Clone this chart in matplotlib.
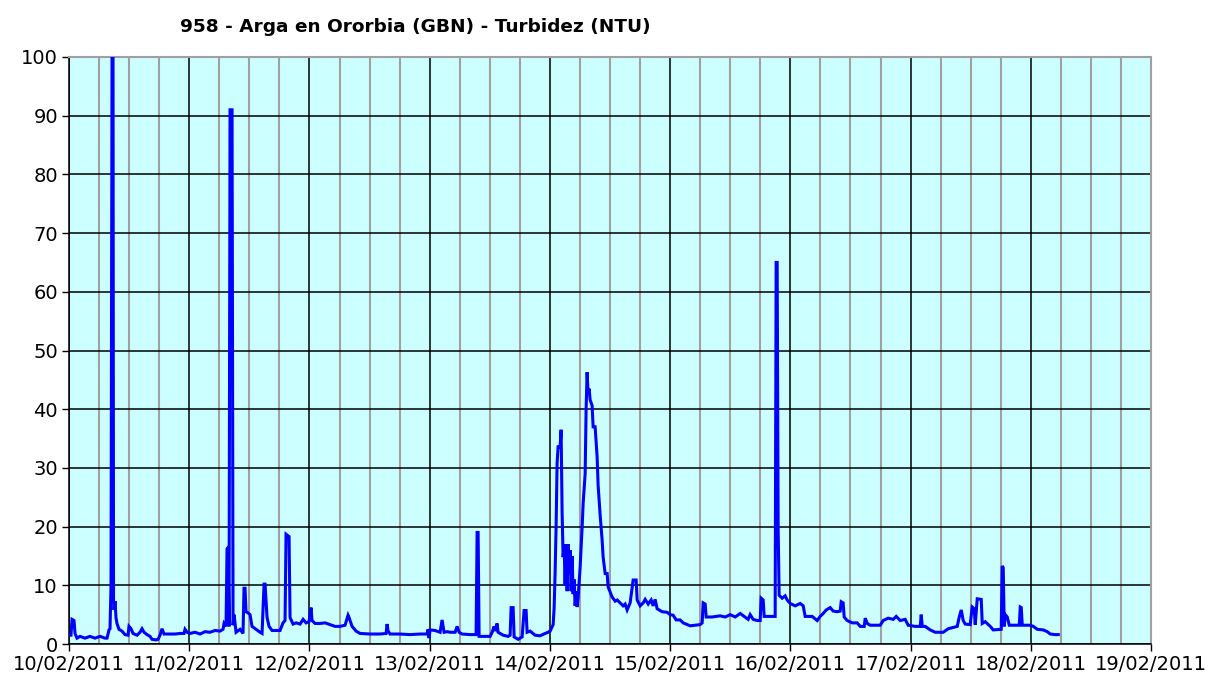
import datetime as dt

import matplotlib
matplotlib.use("Agg")
import matplotlib.pyplot as plt
import matplotlib.dates as mdates
import numpy as np

# hours since 10/02/2011 00:00, turbidity (NTU)
horas = [
    0, 0.40, 0.60, 1.00, 1.20, 1.60, 2.20, 3.19, 4.19, 5.19, 6.19, 7.19, 7.59, 7.99,
    8.19, 8.39, 8.59, 8.79, 8.89, 8.99, 9.19, 9.38, 9.58, 9.98, 10.58, 11.18, 11.78,
    11.98, 12.38, 12.78, 13.58, 14.18, 14.58, 14.98, 15.58, 16.17, 16.57, 17.37, 17.77,
    18.17, 18.57, 18.97, 20.17, 21.17, 22.16, 22.96, 23.16, 23.56, 24.16, 25.16, 26.16,
    27.16, 28.15, 29.15, 30.15, 30.75, 30.95, 31.35, 31.55, 31.75, 31.95, 32.15, 32.55,
    32.75, 32.95, 33.35, 34.15, 34.74, 34.94, 35.14, 35.34, 35.74, 36.14, 36.54, 37.34,
    38.14, 38.54, 38.94, 39.14, 39.54, 39.94, 40.54, 42.13, 42.73, 43.13, 43.33, 43.93,
    44.13, 44.73, 45.33, 46.13, 46.73, 47.32, 47.92, 48.32, 48.52, 49.12, 50.12, 51.12,
    52.12, 53.11, 54.11, 55.11, 55.71, 55.91, 56.51, 57.31, 58.11, 60.10, 62.10, 63.30,
    63.50, 63.70, 64.10, 66.09, 68.09, 70.09, 71.49, 71.69, 71.88, 72.08, 73.08, 74.08,
    74.48, 74.88, 75.48, 76.08, 77.08, 77.48, 77.88, 78.47, 80.07, 81.27, 81.47, 81.67,
    81.87, 83.07, 84.07, 84.47, 84.86, 85.06, 85.46, 85.66, 86.06, 86.66, 87.66, 88.06,
    88.26, 88.66, 88.86, 89.66, 90.46, 90.85, 91.25, 91.45, 92.05, 93.05, 94.05, 95.05,
    95.65, 96.05, 96.65, 96.84, 97.04, 97.24, 97.44, 97.64, 98.04, 98.24, 98.44, 98.64,
    98.84, 99.04, 99.24, 99.44, 99.64, 99.84, 100.04, 100.24, 100.44, 100.64, 100.84,
    101.04, 101.24, 101.44, 101.64, 102.04, 102.44, 102.64, 103.04, 103.23, 103.43,
    103.63, 103.83, 104.03, 104.43, 104.63, 105.03, 105.43, 105.63, 106.03, 106.43,
    106.63, 107.03, 107.43, 107.63, 108.43, 109.03, 109.43, 110.02, 110.62, 111.02,
    111.42, 112.02, 112.62, 113.22, 113.42, 114.02, 114.62, 115.02, 115.62, 116.21,
    116.61, 117.01, 117.41, 118.41, 119.41, 120.01, 120.61, 121.21, 122.00, 122.60,
    124.00, 125.00, 126.00, 126.40, 126.60, 127.00, 127.20, 128.39, 129.99, 130.99,
    131.99, 132.99, 133.99, 134.78, 135.58, 135.98, 136.58, 137.38, 137.98, 138.18,
    138.58, 138.78, 139.98, 140.97, 141.17, 141.37, 141.57, 141.77, 142.37, 142.97,
    143.37, 143.97, 144.97, 145.97, 146.57, 146.96, 148.36, 149.36, 149.96, 150.56,
    151.16, 151.96, 152.56, 153.35, 153.95, 154.15, 154.55, 154.75, 155.35, 156.35,
    157.35, 157.95, 158.75, 158.95, 159.35, 159.95, 161.94, 162.54, 163.54, 164.54,
    165.14, 165.94, 166.93, 167.53, 168.93, 169.93, 170.13, 170.33, 170.93, 171.92,
    172.92, 174.52, 175.52, 177.32, 177.72, 178.12, 178.51, 178.91, 179.91, 180.31,
    180.71, 180.91, 181.31, 182.11, 182.31, 182.91, 183.91, 184.50, 186.10, 186.30,
    186.50, 186.70, 186.90, 187.30, 187.70, 188.90, 189.70, 189.90, 190.10, 190.30,
    191.91, 192.51, 193.31, 194.49, 195.29, 195.89, 196.89, 197.49,
]
turbidez = [
    1.5, 1.5, 4.2, 4.0, 1.8, 1.0, 1.3, 1.0, 1.3, 1.0, 1.3, 1.0, 1.0, 2.4,
    2.6, 10, 100, 100, 7.5, 5.8, 7.3, 4.5, 3.5, 2.5, 2.2, 1.6, 1.5,
    3.0, 2.6, 1.8, 1.5, 2.0, 2.6, 2.0, 1.6, 1.3, 0.8, 0.7, 0.8,
    1.5, 2.6, 1.7, 1.7, 1.7, 1.8, 1.8, 2.5, 2.0, 1.8, 2.0, 1.7,
    2.1, 2.0, 2.3, 2.2, 2.5, 3.5, 3.0, 16.2, 16.4, 3.0, 91, 91,
    3.2, 5.0, 2.0, 2.5, 1.8, 9.5, 9.5, 5.5, 5.3, 5.0, 3.0, 2.5,
    2.0, 1.8, 10.2, 10.2, 4.5, 3.0, 2.3, 2.3, 3.6, 4.0, 18.7, 18.3,
    4.5, 3.4, 3.6, 3.4, 4.2, 3.6, 3.8, 6.2, 4.0, 3.5, 3.5, 3.6,
    3.3, 3.0, 3.0, 3.2, 4.9, 4.5, 3.0, 2.2, 1.8, 1.7, 1.7, 1.8,
    3.4, 2.2, 1.7, 1.7, 1.6, 1.7, 1.7, 2.5, 1.0, 2.4, 2.3, 2.0,
    4.1, 2.0, 2.1, 2.0, 2.0, 3.0, 2.0, 1.7, 1.6, 1.6, 19.0, 19.0,
    1.3, 1.3, 1.3, 2.0, 3.0, 2.2, 3.5, 2.0, 1.8, 1.5, 1.3, 1.5,
    6.2, 6.2, 1.2, 0.8, 1.2, 5.7, 5.7, 2.0, 2.2, 1.5, 1.4, 1.8,
    2.0, 2.2, 3.3, 6.0, 12, 20, 30.8, 33.6, 33.6, 36.5, 22.3, 14.8,
    16.8, 10, 17, 9, 17, 12, 16, 9, 15, 8.5, 11,
    6.5, 9, 6.3, 8.0, 13.1, 20, 24, 29, 40, 46.3,
    42.7, 43.5, 41.6, 40.6, 37.0, 37.0, 31.9, 27, 22, 17.7,
    14.8, 12, 12, 9.7, 8.0, 7.3, 7.5, 7.0, 6.5, 6.8,
    5.8, 7.0, 10.9, 10.9, 7.5, 6.5, 7.0, 7.6, 6.8, 7.5,
    6.5, 7.6, 6.0, 5.5, 5.4, 5.0, 4.9, 4.1, 4.1, 3.6,
    3.1, 3.2, 3.3, 3.6, 7.0, 6.8, 4.6, 4.6, 4.8, 4.6,
    5.0, 4.6, 5.2, 4.7, 4.2, 5.0, 4.2, 4.0, 4.0, 7.8,
    7.5, 4.7, 4.7, 4.7, 65, 65, 19.4, 8.3, 7.8, 8.2,
    7.5, 6.9, 6.5, 6.9, 6.5, 4.7, 4.7, 4.0, 4.7, 5.2,
    5.8, 6.2, 5.6, 5.5, 5.6, 7.2, 7.0, 4.6, 4.0, 3.6,
    3.6, 3.0, 3.0, 4.4, 3.5, 3.2, 3.2, 4.0, 4.4, 4.2,
    4.7, 4.0, 4.2, 3.2, 3.0, 3.0, 5.0, 3.0, 3.0, 2.4,
    2.0, 2.0, 2.6, 3.0, 4.6, 5.8, 4.0, 3.4, 3.3, 6.3,
    6.0, 3.3, 7.7, 7.6, 3.5, 3.8, 3.0, 2.4, 2.5, 13.3,
    13.0, 3.0, 5.0, 4.6, 3.2, 3.2, 3.2, 6.3, 6.2, 3.2,
    3.2, 3.0, 2.5, 2.4, 2.1, 1.7, 1.6, 1.6,
]

inicio = dt.datetime(2011, 2, 10)
fin = dt.datetime(2011, 2, 19)
fechas = [inicio + dt.timedelta(hours=h) for h in horas]

fig = plt.figure(figsize=(12.08, 6.79), dpi=100)
ax = fig.add_axes([69 / 1208, 35 / 679, (1151 - 69) / 1208, (644 - 57) / 679])
ax.set_facecolor("#CCFFFF")

ax.plot(fechas, turbidez, color="#0000FF", lw=2.2, zorder=3, solid_joinstyle="miter")

ax.set_xlim(inicio, fin)
ax.set_ylim(0, 100)
ax.set_yticks(np.arange(0, 101, 10))
ax.xaxis.set_major_locator(mdates.DayLocator())
ax.xaxis.set_minor_locator(mdates.HourLocator(byhour=[6, 12, 18]))
ax.xaxis.set_major_formatter(mdates.DateFormatter("%d/%m/%Y"))

ax.set_axisbelow(True)
ax.grid(which="major", color="black", lw=1.1)
ax.grid(which="minor", axis="x", color="#A0A0A0", lw=1.5)

ax.tick_params(which="major", direction="out", length=5, width=1, labelsize=14, colors="black", pad=3)
ax.tick_params(which="minor", length=0)

for s in ("left", "bottom"):
    ax.spines[s].set_color("black")
    ax.spines[s].set_linewidth(1.1)
for s in ("top", "right"):
    ax.spines[s].set_color("#A0A0A0")
    ax.spines[s].set_linewidth(1.5)

fig.text(415 / 1208, 1 - 27 / 679, "958 - Arga en Ororbia (GBN) - Turbidez (NTU)",
         ha="center", va="center", fontsize=13.3, fontweight="bold")

fig.savefig("out.png", dpi=100, facecolor="white")
